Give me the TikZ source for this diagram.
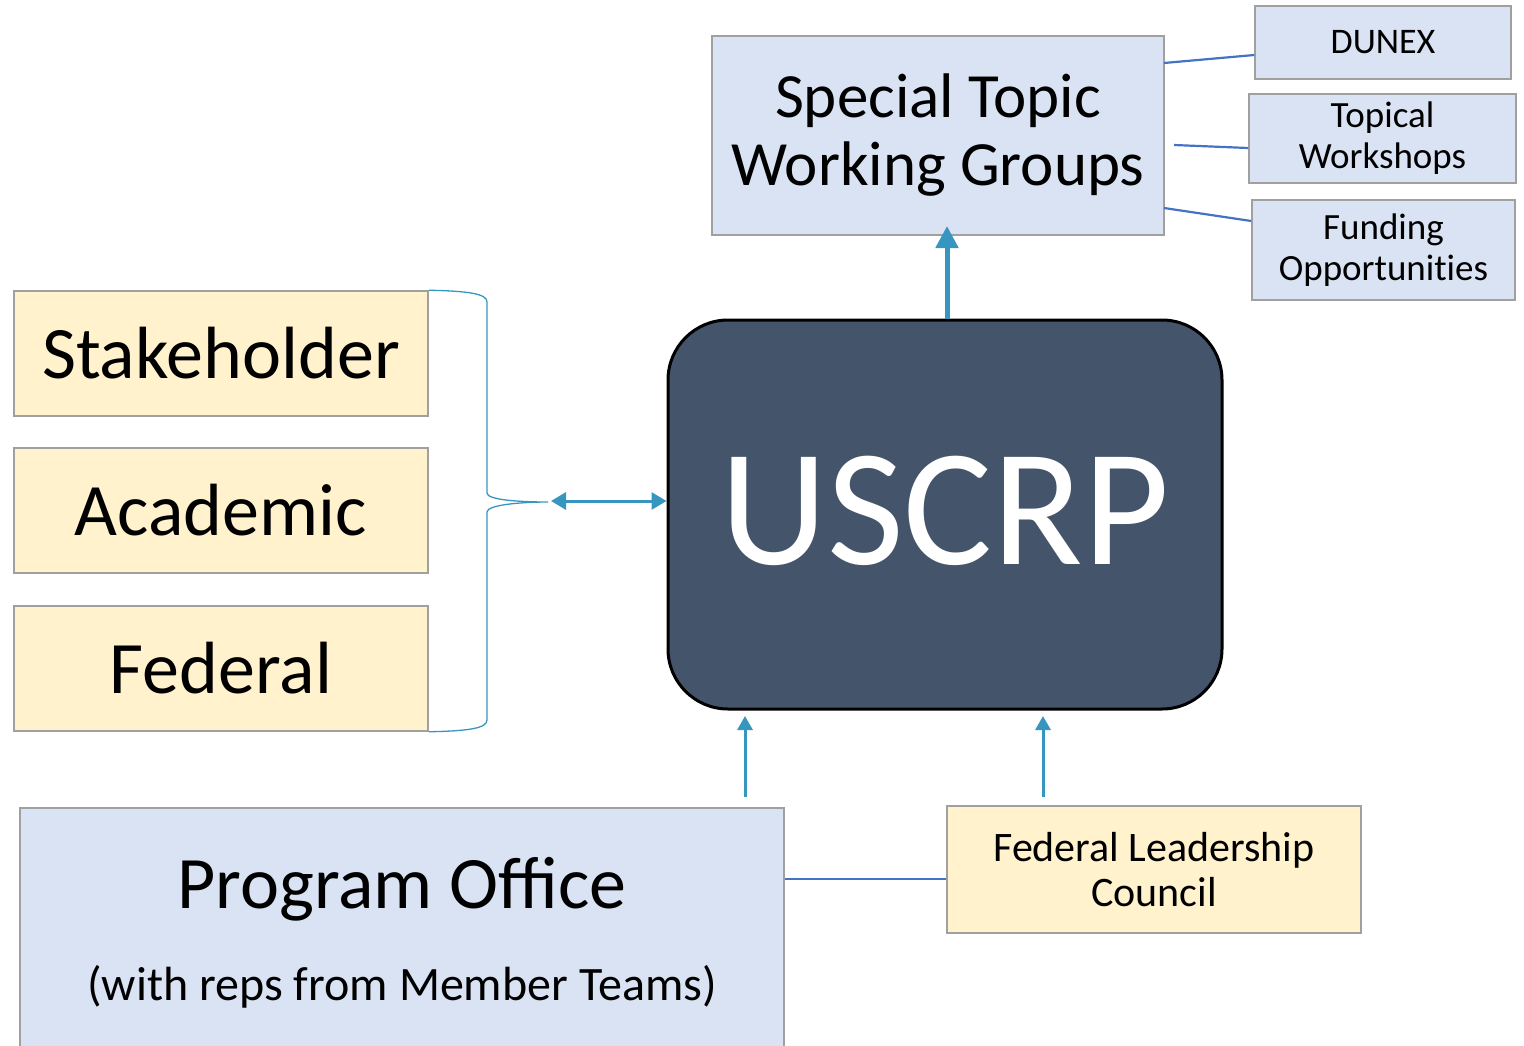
\documentclass[tikz,border=0pt]{standalone}
\usepackage{fontspec}
\setmainfont{Carlito}
\usetikzlibrary{arrows.meta}
\definecolor{lblue}{HTML}{DAE3F3}
\definecolor{lyel}{HTML}{FFF2CC}
\definecolor{dslate}{HTML}{44546A}
\definecolor{teal}{HTML}{3796C0}
\definecolor{lineblue}{HTML}{4472C4}
\definecolor{bordergray}{HTML}{A0A0A0}
\newcommand{\fs}[2]{\fontsize{#1}{#2}\selectfont}
\tikzset{
  bluebox/.style={draw=bordergray, line width=1.5pt, fill=lblue, inner sep=0pt, align=center},
  yelbox/.style={draw=bordergray, line width=1.5pt, fill=lyel, inner sep=0pt, align=center},
  link/.style={draw=lineblue, line width=2.2pt},
  tealarrow/.style={draw=teal, line width=3pt, -{Triangle[length=14pt,width=15pt]}},
}
\begin{document}
\begin{tikzpicture}[x=1pt,y=-1pt]
\useasboundingbox (0,0) rectangle (1524,1045);
\clip (0,0) rectangle (1524,1045);

% Special topic working groups
\node[bluebox, minimum width=452, minimum height=199, font=\fs{63}{68}] (stwg) at (938,135.5)
  {Special Topic\\Working Groups};
\node[bluebox, minimum width=256, minimum height=73, font=\fs{36}{40}] (dunex) at (1383,42.5) {DUNEX};
\node[bluebox, minimum width=267, minimum height=89, font=\fs{37}{41}] (topws) at (1382.5,138.5) {Topical\\Workshops};
\node[bluebox, minimum width=263, minimum height=100, font=\fs{37}{41}\addfontfeatures{Ligatures=NoCommon}] (fund) at (1383.5,250) {Funding\\Opportunities};

\coordinate (s1) at (1164,63);
\coordinate (s2) at (1174,145);
\coordinate (s3) at (1164,208);
\draw[link] (s1) -- (dunex.west |- 0,55);
\draw[link] (s2) -- (topws.west |- 0,148);
\draw[link] (s3) -- (fund.west |- 0,221);

% USCRP
\node[draw=black, line width=3pt, fill=dslate, rounded corners=60pt,
  minimum width=554, minimum height=389, inner sep=0pt, text=white, font=\fs{167}{170}] (uscrp) at (945,514.5)
  {\raisebox{8pt}{USCRP}};

\coordinate (upend) at (947,226);
\draw[draw=teal, line width=5pt, -{Triangle[length=22pt,width=22pt]}] (uscrp.north -| 947,0) -- (upend);

% Left stakeholders
\node[yelbox, minimum width=414, minimum height=125, font=\fs{74}{80}] (stake) at (221,353.5) {Stakeholder};
\node[yelbox, minimum width=414, minimum height=125, font=\fs{74}{80}] (acad) at (221,510.5) {Academic};
\node[yelbox, minimum width=414, minimum height=125, font=\fs{74}{80}] (fed) at (221,668.5) {Federal};

% brace
\coordinate (btip) at (548,502);
\draw[teal, line width=1.3pt] (stake.north east) .. controls (470,291) and (487,294) .. (487,302)
  -- (487,493) .. controls (487,500) and (520,502) .. (btip)
  .. controls (520,502) and (487,505) .. (487,512)
  -- (487,720) .. controls (487,728) and (470,731) .. (fed.south east);

\coordinate (dal) at (551,501);
\draw[draw=teal, line width=3pt, {Triangle[length=15pt,width=17pt]}-{Triangle[length=15pt,width=17pt]}] (dal) -- (uscrp.west |- 0,501);

% Program Office
\node[bluebox, minimum width=764, minimum height=262] (po) at (402,939) {};
\node[anchor=base, font=\fs{74}{80}] (potitle) at (402,908) {Program Office};
\node[anchor=base, font=\fs{48}{52}] (posub) at (402,1000) {(with reps from Member Teams)};

% Federal Leadership Council
\node[yelbox, minimum width=414, minimum height=127, font=\fs{42}{45}] (flc) at (1154,869.5)
  {Federal Leadership\\Council};

\draw[link] (po.east |- 0,879) -- (flc.west |- 0,879);

\coordinate (a1) at (745,797);
\coordinate (a2) at (1043,797);
\draw[tealarrow] (a1) -- (745,716);
\draw[tealarrow] (a2) -- (1043,716);
\end{tikzpicture}
\end{document}
